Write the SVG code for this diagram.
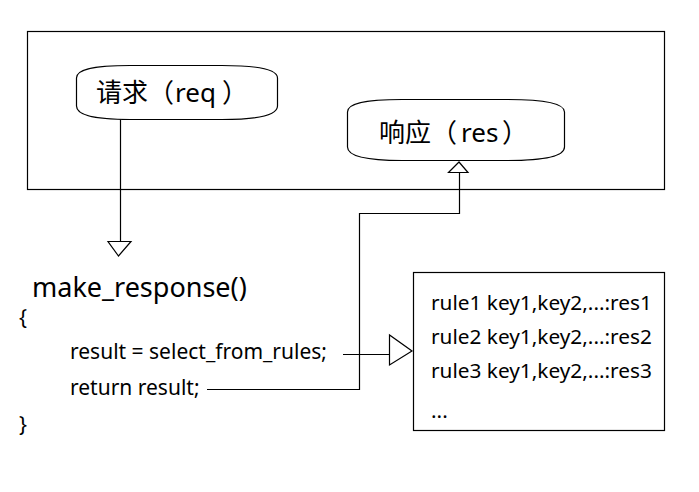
<svg xmlns="http://www.w3.org/2000/svg" width="699" height="492" viewBox="0 0 699 492">
<style>
.ln{fill:none;stroke:#000;stroke-width:1.2}
.hd{fill:#fff;stroke:#000;stroke-width:1.2}
.t{font-family:"Noto Sans","Noto Sans CJK SC",sans-serif;fill:#000}
.cjk{font-family:"Noto Sans CJK SC","Noto Sans",sans-serif;fill:#000;font-size:26px}
.lat{font-family:"Noto Sans","Noto Sans CJK SC",sans-serif}
</style>
<rect width="699" height="492" fill="#fff"/>
<g id="frame"><rect class="ln" x="27.5" y="31.5" width="637" height="158"/></g>
<g id="req">
<path class="ln" d="M76.5,78 C76.5,70 90,65.5 130,65.5 L222,65.5 C262,65.5 277.5,70 277.5,78 L277.5,106 C277.5,114 262,119.5 222,119.5 L130,119.5 C90,119.5 76.5,114 76.5,106 Z"/>
<text class="cjk" y="102"><tspan x="96">请求（</tspan><tspan class="lat" x="175">req</tspan><tspan x="222">）</tspan></text>
</g>
<g id="res">
<path class="ln" d="M347.5,112 C347.5,104 362,99.5 402,99.5 L508,99.5 C548,99.5 564.5,104 564.5,112 L564.5,147 C564.5,155 548,160.5 508,160.5 L402,160.5 C362,160.5 347.5,155 347.5,147 Z"/>
<text class="cjk" y="142"><tspan x="379">响应（</tspan><tspan class="lat" x="461">res</tspan><tspan x="502">）</tspan></text>
</g>
<g id="code">
<text class="t" x="32" y="297" font-size="27">make_response()</text>
<text class="t" x="19" y="325" font-size="21">{</text>
<text class="t" x="70" y="359" font-size="21">result = select_from_rules;</text>
<text class="t" x="70" y="395" font-size="21">return result;</text>
<text class="t" x="19" y="432" font-size="21">}</text>
</g>
<g id="rules">
<rect class="ln" x="413.5" y="272.5" width="251" height="158"/>
<text class="t" x="431" y="310" font-size="20.8">rule1 key1,key2,...:res1</text>
<text class="t" x="431" y="344" font-size="20.8">rule2 key1,key2,...:res2</text>
<text class="t" x="431" y="378" font-size="20.8">rule3 key1,key2,...:res3</text>
<text class="t" x="431" y="418" font-size="20.8">...</text>
</g>
<g id="connectors">
<path class="ln" d="M120.5,119.5 V241"/>
<polygon class="hd" points="108,241.5 131,241.5 118.5,256"/>
<path class="ln" d="M207,389.5 H359.5 V213.5 H459.5 V173"/>
<polygon class="hd" points="448.5,172.5 468,172.5 459,162"/>
<path class="ln" d="M343,354.5 H389"/>
<polygon class="hd" points="389.5,335 389.5,365 412,351"/>
</g>
</svg>
